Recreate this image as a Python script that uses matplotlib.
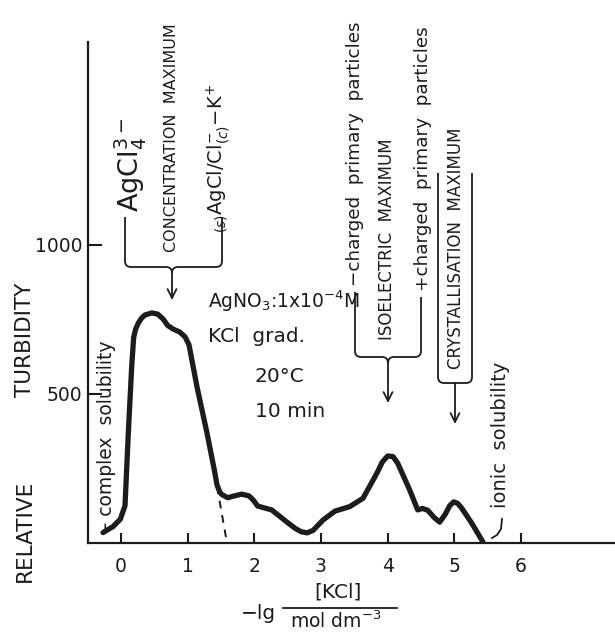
import numpy as np
import matplotlib
matplotlib.use('Agg')
import matplotlib.pyplot as plt
from matplotlib.path import Path
from matplotlib.patches import PathPatch, FancyArrowPatch
from matplotlib.lines import Line2D
import matplotlib.transforms as mtransforms

# ---- data ----
kcl_lg = [-0.27, -0.12, -0.01, 0.06, 0.11, 0.16, 0.19, 0.22, 0.26, 0.31, 0.36, 0.46,
          0.55, 0.63, 0.70, 0.78, 0.88, 0.96, 1.02, 1.14, 1.29, 1.40, 1.44, 1.48,
          1.51, 1.60, 1.70, 1.81, 1.92, 1.98, 2.05, 2.26, 2.49, 2.62, 2.70, 2.79,
          2.88, 3.03, 3.21, 3.43, 3.63, 3.84, 3.92, 4.00, 4.08, 4.15, 4.33, 4.45,
          4.52, 4.60, 4.70, 4.78, 4.86, 4.93, 4.99, 5.05, 5.11, 5.26, 5.43]
turbidity = [35, 55, 80, 125, 370, 590, 690, 718, 738, 755, 765, 772,
             768, 752, 730, 718, 708, 692, 665, 524, 369, 245, 195, 172,
             163, 152, 158, 164, 158, 145, 124, 111, 70, 48, 38, 34,
             42, 77, 107, 122, 150, 235, 272, 292, 290, 268, 178, 111,
             116, 110, 85, 70, 95, 125, 138, 133, 117, 67, 3]
extrap_x = [1.44, 1.59]
extrap_y = [190, 0]
xtick_vals = [0, 1, 2, 3, 4, 5, 6]
ytick_vals = [500, 1000]

INK = '#1c1c1c'
plt.rcParams['font.family'] = ['DejaVu Sans']
plt.rcParams['mathtext.fontset'] = 'dejavusans'

W, H = 615, 636
fig = plt.figure(figsize=(W / 100, H / 100), dpi=100)
fig.patch.set_facecolor('white')

ax = fig.add_axes([88 / W, (H - 543) / H, (W - 88) / W, (543 - 42) / H])
ax.set_xlim(-0.495, 7.41)
ax.set_ylim(0, 1681)
for s in ['top', 'right']:
    ax.spines[s].set_visible(False)
for s in ['left', 'bottom']:
    ax.spines[s].set_linewidth(1.6)
    ax.spines[s].set_color(INK)
ax.set_xticks(xtick_vals)
ax.set_yticks(ytick_vals)
ax.tick_params(axis='x', direction='in', length=7, width=1.5, pad=10,
               labelsize=13.5, colors=INK)
ax.tick_params(axis='y', direction='in', length=10, width=1.5, pad=4,
               labelsize=13.5, colors=INK)

ax.plot(kcl_lg, turbidity, color=INK, lw=3.8, solid_joinstyle='round',
        solid_capstyle='round')
ax.plot(extrap_x, extrap_y, color=INK, lw=1.4, dashes=(4, 3.5))

# pixel transform (origin top-left) for annotations
PX = mtransforms.Affine2D().scale(1 / W, -1 / H).translate(0, 1) + fig.transFigure


def ptext(x, y, s, **kw):
    kw.setdefault('color', INK)
    fig.text(x, y, s, transform=PX, **kw)


def vtext(x, y, s, size):
    ptext(x, y, s, rotation=90, ha='center', va='bottom', fontsize=size)


def brace(xl, xr, ytl, ytr, yb, xm, yarr, r=6, tip=True):
    M, L, C = Path.MOVETO, Path.LINETO, Path.CURVE3
    verts = [(xl, ytl), (xl, yb - r), (xl, yb), (xl + r, yb)]
    codes = [M, L, C, C]
    if tip:
        verts += [(xm - r, yb), (xm, yb), (xm, yb + r), (xm, yb), (xm + r, yb)]
        codes += [L, C, C, C, C]
    verts += [(xr - r, yb), (xr, yb), (xr, yb - r), (xr, ytr)]
    codes += [L, C, C, L]
    fig.add_artist(PathPatch(Path(verts, codes), transform=PX, fill=False,
                             lw=1.3, edgecolor=INK))
    y0 = yb + r if tip else yb
    fig.add_artist(FancyArrowPatch((xm, y0), (xm, yarr), transform=PX,
                                   arrowstyle='->', mutation_scale=16,
                                   lw=1.3, color=INK, shrinkA=0, shrinkB=0))


# concentration maximum
vtext(130, 212, r'AgCl$_4^{3-}$', 19.5)
vtext(172, 252, 'CONCENTRATION  MAXIMUM', 11.5)
vtext(218, 233, r'${}_{(s)}\mathrm{AgCl/Cl}^{-}_{(c)}\mathrm{-K}^{+}$', 14)
brace(125, 222, 217, 217, 267, 172, 300)

# conditions
ptext(208, 308, r'AgNO$_3$:1x10$^{-4}$M', ha='left', va='baseline', fontsize=13.5)
ptext(208, 342, 'KCl  grad.', ha='left', va='baseline', fontsize=14.5)
ptext(255, 382, '20°C', ha='left', va='baseline', fontsize=14.5)
ptext(255, 417, '10 min', ha='left', va='baseline', fontsize=14.5)

# isoelectric maximum
vtext(355, 286, '−charged  primary  particles', 13.2)
vtext(387, 340, 'ISOELECTRIC  MAXIMUM', 12)
vtext(423, 291, '+charged  primary  particles', 13.2)
brace(355, 421, 292, 297, 357, 388, 403)

# crystallisation maximum
vtext(456, 369, 'CRYSTALLISATION  MAXIMUM', 12)
brace(438, 472, 173, 173, 383, 455, 424, tip=False)

# solubility notes
vtext(106, 531, '– complex  solubility', 13.5)
vtext(500, 508, 'ionic  solubility', 14)
fig.add_artist(Line2D([492, 497, 501, 502], [538, 535, 529, 519],
                      transform=PX, color=INK, lw=1.3))

# axis titles
ptext(25, 531, 'RELATIVE', rotation=90, ha='center', va='center', fontsize=15.5)
ptext(25, 340, 'TURBIDITY', rotation=90, ha='center', va='center', fontsize=15.5)

ptext(241, 619, '−lg', ha='left', va='baseline', fontsize=14.5)
ptext(338, 592, '[KCl]', ha='center', va='center', fontsize=14.5)
fig.add_artist(Line2D([283, 397], [608, 608], transform=PX, color=INK, lw=1.3))
ptext(336, 611, r'mol dm$^{-3}$', ha='center', va='top', fontsize=13.5)

fig.savefig('out.png', dpi=100, facecolor='white')
